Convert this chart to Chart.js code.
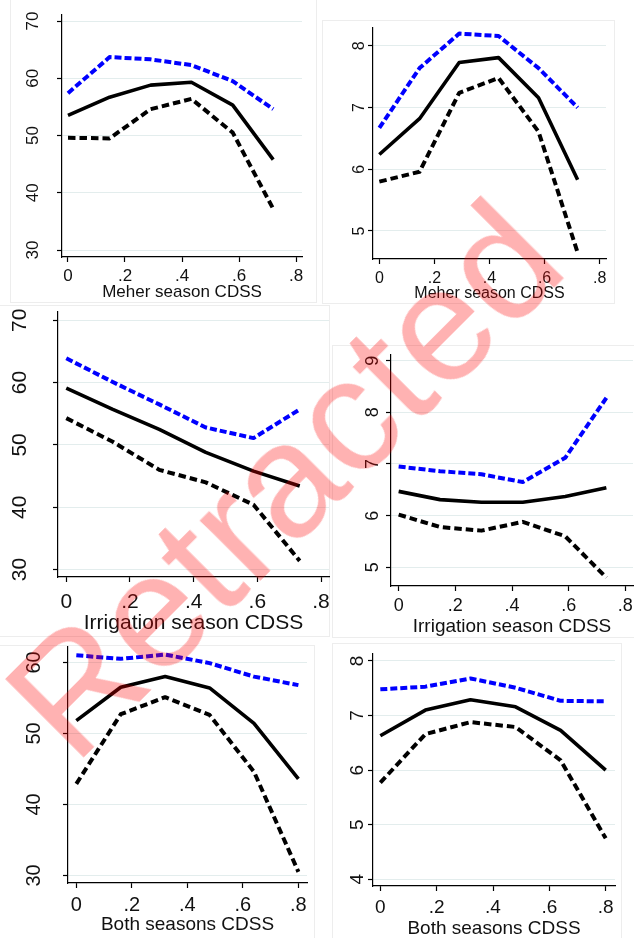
<!DOCTYPE html>
<html>
<head>
<meta charset="utf-8">
<title>CDSS panels</title>
<script src="https://cdn.jsdelivr.net/npm/chart.js@4.4.1/dist/chart.umd.min.js"></script>
<style>
  html, body { margin: 0; padding: 0; background: #fff; }
  #page { position: relative; width: 634px; height: 938px; overflow: hidden; background: #fff; }
  .frame { position: absolute; border: 1px solid #ededed; box-sizing: border-box; }
  .panel { position: absolute; }
  #stamp {
    position: absolute; left: 283px; top: 479px;
    transform: translate(-50%, -50%) rotate(-45deg);
    font: 162px/1 "Liberation Sans", Arial, sans-serif;
    color: rgba(255, 0, 0, 0.3); white-space: nowrap;
    pointer-events: none; z-index: 10;
  }
</style>
</head>
<body>
<div id="page"></div>
<script>
// shared x axis
const xTicks = [0, 0.2, 0.4, 0.6, 0.8];
const xTickLabels = ['0', '.2', '.4', '.6', '.8'];

// Meher season
const meherX = [0, 0.146, 0.29, 0.433, 0.578, 0.72];
const meherLeftHi  = [57.4, 63.7, 63.3, 62.3, 59.5, 54.6];
const meherLeftFit = [53.5, 56.7, 58.8, 59.3, 55.3, 45.8];
const meherLeftLo  = [49.6, 49.5, 54.6, 56.4, 50.5, 37.2];
const meherRightHi  = [6.67, 7.64, 8.2, 8.16, 7.64, 7.0];
const meherRightFit = [6.24, 6.82, 7.73, 7.81, 7.16, 5.83];
const meherRightLo  = [5.8, 5.96, 7.24, 7.48, 6.61, 4.65];

// Irrigation season
const irrigX = [0, 0.146, 0.292, 0.438, 0.588, 0.733];
const irrigLeftHi  = [63.9, 60.1, 56.5, 52.8, 51.1, 55.7];
const irrigLeftFit = [59.1, 55.7, 52.5, 48.8, 45.8, 43.4];
const irrigLeftLo  = [54.3, 50.5, 46.0, 44.0, 40.4, 31.4];
const irrigRightHi  = [6.95, 6.86, 6.8, 6.65, 7.12, 8.28];
const irrigRightFit = [6.47, 6.31, 6.26, 6.26, 6.37, 6.54];
const irrigRightLo  = [6.02, 5.78, 5.71, 5.88, 5.6, 4.8];

// Both seasons
const bothX = [0, 0.16, 0.32, 0.48, 0.64, 0.8];
const bothLeftHi  = [61.0, 60.5, 61.1, 59.9, 58.0, 56.8];
const bothLeftFit = [51.8, 56.5, 58.0, 56.4, 51.4, 43.6];
const bothLeftLo  = [42.9, 52.7, 55.1, 52.6, 44.6, 30.5];
const bothRightHi  = [7.48, 7.53, 7.68, 7.51, 7.27, 7.26];
const bothRightFit = [6.63, 7.1, 7.29, 7.16, 6.73, 6.0];
const bothRightLo  = [5.77, 6.66, 6.88, 6.79, 6.18, 4.75];

// y tick values
const meherLeftTicks = [30, 40, 50, 60, 70];
const meherRightTicks = [5, 6, 7, 8];
const irrigLeftTicks = [30, 40, 50, 60, 70];
const irrigRightTicks = [5, 6, 7, 8, 9];
const bothLeftTicks = [30, 40, 50, 60];
const bothRightTicks = [4, 5, 6, 7, 8];

const FONT = '"Liberation Sans", Arial, sans-serif';

var panels = [
  { title: 'Meher season CDSS', x: meherX, hi: meherLeftHi, fit: meherLeftFit, lo: meherLeftLo,
    yTicks: meherLeftTicks, yMin: 28.78, yMax: 71.05, xMin: -0.021, xMax: 0.821,
    box: { L: 62, T: 15, R: 302, B: 257 }, titleY: 293, tickSize: 17, titleSize: 17, yPad: 14.5, xPad: 4,
    frame: [10, -1, 317, 303] },
  { title: 'Meher season CDSS', x: meherX, hi: meherRightHi, fit: meherRightFit, lo: meherRightLo,
    yTicks: meherRightTicks, yMin: 4.546, yMax: 8.29, xMin: -0.023, xMax: 0.823,
    box: { L: 373, T: 28, R: 606, B: 259 }, titleY: 293.5, tickSize: 16, titleSize: 16, yPad: 4, xPad: 5,
    frame: [322, 20, 615, 304] },
  { title: 'Irrigation season CDSS', x: irrigX, hi: irrigLeftHi, fit: irrigLeftFit, lo: irrigLeftLo,
    yTicks: irrigLeftTicks, yMin: 28.81, yMax: 71.33, xMin: -0.026, xMax: 0.825,
    box: { L: 58, T: 312, R: 329, B: 577 }, titleY: 623.5, tickSize: 21, titleSize: 21, yPad: 21, xPad: 8,
    frame: [-1, 305, 330, 637] },
  { title: 'Irrigation season CDSS', x: irrigX, hi: irrigRightHi, fit: irrigRightFit, lo: irrigRightLo,
    yTicks: irrigRightTicks, yMin: 4.638, yMax: 9.11, xMin: -0.027, xMax: 0.827,
    box: { L: 391, T: 355, R: 633, B: 586 }, titleY: 627, tickSize: 18, titleSize: 19, yPad: 7.7, xPad: 4.6,
    frame: [332, 345, 640, 638] },
  { title: 'Both seasons CDSS', x: bothX, hi: bothLeftHi, fit: bothLeftFit, lo: bothLeftLo,
    yTicks: bothLeftTicks, yMin: 28.93, yMax: 62.17, xMin: -0.030, xMax: 0.831,
    box: { L: 68, T: 647, R: 307, B: 883 }, titleY: 925, tickSize: 20, titleSize: 19, yPad: 17, xPad: 5,
    frame: [-1, 645, 315, 945] },
  { title: 'Both seasons CDSS', x: bothX, hi: bothRightHi, fit: bothRightFit, lo: bothRightLo,
    yTicks: bothRightTicks, yMin: 3.877, yMax: 8.128, xMin: -0.026, xMax: 0.833,
    box: { L: 373, T: 654, R: 615, B: 886 }, titleY: 928.3, tickSize: 19, titleSize: 19, yPad: 5.4, xPad: 5.5,
    frame: [332, 643, 622, 945] }
];

var page = document.getElementById('page');

function toPoints(xs, ys) {
  return xs.map(function (x, i) { return { x: x, y: ys[i] }; });
}

/**
 * one Stata-like panel: fitted line, lower band (black dash), upper band (blue dash)
 */
function drawPanel(p) {
  var wY = 60, padTop = 40, padRight = 20, padBottom = 20;
  var hX = Math.round(p.titleY + 0.6 * p.titleSize - p.box.B);
  var left = p.box.L - wY, top = p.box.T - padTop;
  var width = p.box.R + padRight - left;
  var height = p.box.B + hX + padBottom - top;

  var frame = document.createElement('div');
  frame.className = 'frame';
  frame.style.left = p.frame[0] + 'px';
  frame.style.top = p.frame[1] + 'px';
  frame.style.width = (p.frame[2] - p.frame[0]) + 'px';
  frame.style.height = (p.frame[3] - p.frame[1]) + 'px';
  page.appendChild(frame);

  var canvas = document.createElement('canvas');
  canvas.className = 'panel';
  canvas.width = width;
  canvas.height = height;
  canvas.style.left = left + 'px';
  canvas.style.top = top + 'px';
  page.appendChild(canvas);

  var line = { pointRadius: 0, tension: 0, fill: false, borderCapStyle: 'butt', borderJoinStyle: 'round' };

  new Chart(canvas.getContext('2d'), {
    type: 'line',
    data: {
      datasets: [
        Object.assign({ data: toPoints(p.x, p.fit), borderColor: '#000', borderWidth: 3.6 }, line),
        Object.assign({ data: toPoints(p.x, p.lo), borderColor: '#000', borderWidth: 4, borderDash: [7.5, 4] }, line),
        Object.assign({ data: toPoints(p.x, p.hi), borderColor: '#0000ff', borderWidth: 4, borderDash: [7, 3] }, line)
      ]
    },
    options: {
      responsive: false,
      animation: false,
      events: [],
      layout: { padding: { left: 0, top: padTop, right: padRight, bottom: padBottom } },
      plugins: { legend: { display: false }, tooltip: { enabled: false } },
      scales: {
        x: {
          type: 'linear', min: p.xMin, max: p.xMax,
          afterBuildTicks: function (s) { s.ticks = xTicks.map(function (v) { return { value: v }; }); },
          afterFit: function (s) { s.height = hX; },
          ticks: {
            autoSkip: false, minRotation: 0, maxRotation: 0, padding: p.xPad, color: '#111',
            font: { family: FONT, size: p.tickSize },
            callback: function (v, i) { return xTickLabels[i]; }
          },
          grid: { drawOnChartArea: false, drawTicks: true, tickLength: 5, tickColor: '#000', tickWidth: 1.2 },
          border: { display: true, color: '#000', width: 1.2 },
          title: { display: true, text: p.title, color: '#111', padding: 0,
                   font: { family: FONT, size: p.titleSize, lineHeight: 1.2 } }
        },
        y: {
          type: 'linear', min: p.yMin, max: p.yMax,
          afterBuildTicks: function (s) { s.ticks = p.yTicks.map(function (v) { return { value: v }; }); },
          afterFit: function (s) { s.width = wY; },
          ticks: {
            minRotation: 90, maxRotation: 90, crossAlign: 'center', padding: p.yPad, color: '#111',
            font: { family: FONT, size: p.tickSize },
            callback: function (v) { return String(v); }
          },
          grid: { color: '#e3eded', lineWidth: 1, drawTicks: true, tickLength: 5, tickColor: '#000', tickWidth: 1.2 },
          border: { display: true, color: '#000', width: 1.2 }
        }
      }
    }
  });
}

panels.forEach(drawPanel);

var stamp = document.createElement('div');
stamp.id = 'stamp';
stamp.textContent = 'Retracted';
page.appendChild(stamp);
</script>
</body>
</html>
